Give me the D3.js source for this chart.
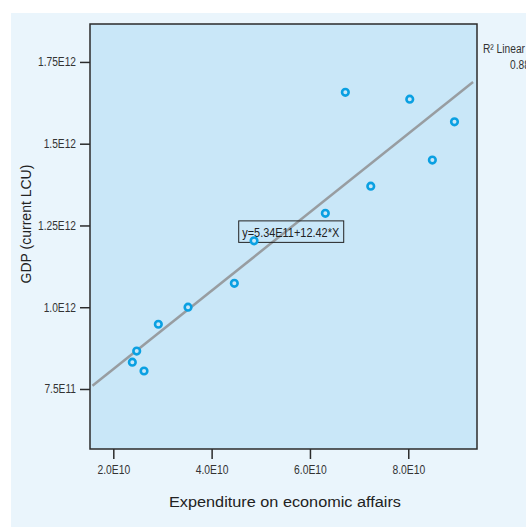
<!DOCTYPE html>
<html>
<head>
<meta charset="utf-8">
<script src="https://cdn.jsdelivr.net/npm/d3@7"></script>
<style>
  html, body { margin: 0; padding: 0; background: #ffffff; }
  svg { display: block; }
  .tick text { font-family: "Liberation Sans", Arial, sans-serif; font-size: 12px; fill: #333; }
</style>
</head>
<body>
<div id="chart"></div>
<script>
// expenditure on economic affairs (x) and GDP in current LCU (y)
var expenditure = [2.387e10, 2.476e10, 2.625e10, 2.916e10, 3.52e10, 4.462e10, 4.863e10,
                   6.313e10, 6.72e10, 7.237e10, 8.03e10, 8.49e10, 8.94e10];
var gdp = [8.32e11, 8.66e11, 8.05e11, 9.48e11, 1.0e12, 1.073e12, 1.203e12,
           1.287e12, 1.657e12, 1.37e12, 1.636e12, 1.45e12, 1.567e12];

var xTicks = [2e10, 4e10, 6e10, 8e10];
var xTickLabels = ["2.0E10", "4.0E10", "6.0E10", "8.0E10"];
var yTicks = [7.5e11, 1.0e12, 1.25e12, 1.5e12, 1.75e12];
var yTickLabels = ["7.5E11", "1.0E12", "1.25E12", "1.5E12", "1.75E12"];

var equationText = "y=5.34E11+12.42*X";
var xTitle = "Expenditure on economic affairs";
var yTitle = "GDP (current LCU)";

var W = 526, H = 527;
var margin = {top: 24, right: 49, bottom: 78, left: 90},
    width = W - margin.left - margin.right,
    height = H - margin.top - margin.bottom;

// squeeze a text horizontally, the reference uses a condensed face
function narrow(sel, k) {
  sel.each(function() {
    var w = this.getComputedTextLength();
    d3.select(this)
      .attr("textLength", w * k)
      .attr("lengthAdjust", "spacingAndGlyphs");
  });
}

var root = d3.select("#chart")
  .append("svg")
    .attr("width", W)
    .attr("height", H);

// light outer panel
root.append("rect")
  .attr("x", 11).attr("y", 13)
  .attr("width", W - 11).attr("height", H - 13)
  .attr("fill", "#eaf5fc");

var svg = root.append("g")
  .attr("transform", "translate(" + margin.left + "," + margin.top + ")");

var x = d3.scaleLinear()
  .domain([1.526e10, 9.398e10])
  .range([0, width]);

var y = d3.scaleLinear()
  .domain([5.665e11, 1.866e12])
  .range([height, 0]);

// plot background
svg.append("rect")
  .attr("width", width)
  .attr("height", height)
  .attr("fill", "#c9e7f8");

// least squares fit, computed from the points
var mx = d3.mean(expenditure), my = d3.mean(gdp);
var sxy = d3.sum(expenditure, function(v, i) { return (v - mx) * (gdp[i] - my); });
var sxx = d3.sum(expenditure, function(v) { return (v - mx) * (v - mx); });
var syy = d3.sum(gdp, function(v) { return (v - my) * (v - my); });
var slope = sxy / sxx, intercept = my - slope * mx;
var r2 = (sxy * sxy) / (sxx * syy);

var xd = x.domain();
var fitLine = d3.line()
  .x(function(d) { return x(d); })
  .y(function(d) { return y(intercept + slope * d); });
svg.append("path")
  .datum([xd[0] + 0.05e10, xd[1] - 0.08e10])
  .attr("d", fitLine)
  .attr("fill", "none")
  .attr("stroke", "#989da1")
  .attr("stroke-width", 2.5);

// equation label
var eq = svg.append("g")
  .attr("transform", "translate(" + x(4.551e10) + "," + y(1.264e12) + ")");
eq.append("rect")
  .attr("x", 0).attr("y", 0)
  .attr("width", 105).attr("height", 21.5)
  .attr("fill", "none")
  .attr("stroke", "#222")
  .attr("stroke-width", 1);
eq.append("text")
  .attr("x", 3.5).attr("y", 16)
  .attr("font-family", "'Liberation Sans', Arial, sans-serif")
  .attr("font-size", "13px")
  .attr("fill", "#222")
  .attr("textLength", 97)
  .attr("lengthAdjust", "spacingAndGlyphs")
  .text(equationText);

// points
svg.selectAll("circle.pt")
  .data(expenditure)
  .enter()
  .append("circle")
    .attr("class", "pt")
    .attr("cx", function(d) { return x(d); })
    .attr("cy", function(d, i) { return y(gdp[i]); })
    .attr("r", 3.3)
    .attr("fill", "#c9e7f8")
    .attr("stroke", "#0aa0e2")
    .attr("stroke-width", 2.6);

// frame
svg.append("rect")
  .attr("width", width)
  .attr("height", height)
  .attr("fill", "none")
  .attr("stroke", "#2b2b2b")
  .attr("stroke-width", 1.5);

// axes
var xAxis = svg.append("g")
  .attr("transform", "translate(0," + height + ")")
  .call(d3.axisBottom(x)
    .tickValues(xTicks)
    .tickFormat(function(d, i) { return xTickLabels[i]; })
    .tickSize(10)
    .tickSizeOuter(0)
    .tickPadding(6));
xAxis.select(".domain").remove();
xAxis.selectAll(".tick line").attr("stroke", "#2b2b2b").attr("stroke-width", 1.5);
narrow(xAxis.selectAll(".tick text"), 0.86);

var yAxis = svg.append("g")
  .call(d3.axisLeft(y)
    .tickValues(yTicks)
    .tickFormat(function(d, i) { return yTickLabels[i]; })
    .tickSize(10)
    .tickSizeOuter(0)
    .tickPadding(4));
yAxis.select(".domain").remove();
yAxis.selectAll(".tick line").attr("stroke", "#2b2b2b").attr("stroke-width", 1.5);
narrow(yAxis.selectAll(".tick text"), 0.85);

// axis titles
root.append("text")
  .attr("x", 285)
  .attr("y", 507)
  .attr("text-anchor", "middle")
  .attr("font-family", "'Liberation Sans', Arial, sans-serif")
  .attr("font-size", "15.5px")
  .attr("fill", "#222")
  .attr("textLength", 232)
  .attr("lengthAdjust", "spacingAndGlyphs")
  .text(xTitle);

root.append("text")
  .attr("transform", "translate(31,224) rotate(-90)")
  .attr("text-anchor", "middle")
  .attr("font-family", "'Liberation Sans', Arial, sans-serif")
  .attr("font-size", "14px")
  .attr("fill", "#222")
  .text(yTitle);

// R² annotation, runs off the right edge like the reference
var r2g = root.append("g")
  .attr("font-family", "'Liberation Sans', Arial, sans-serif")
  .attr("font-size", "12px")
  .attr("fill", "#333");
narrow(r2g.append("text").attr("x", 483).attr("y", 53).text("R\u00b2 Linear ="), 0.85);
narrow(r2g.append("text").attr("x", 510).attr("y", 69).text(d3.format(".3f")(r2)), 0.85);
</script>
</body>
</html>
